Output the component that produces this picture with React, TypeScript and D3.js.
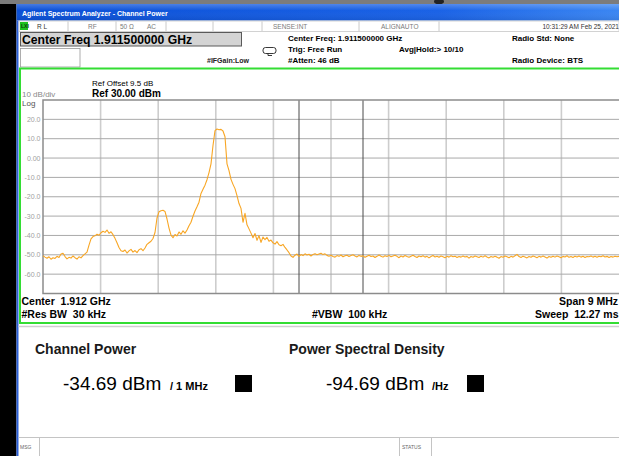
import React from 'react';
import * as d3 from 'd3';

// ---- data ----
const centerFreqMHz = 1911.5;
const spanMHz = 9;
const channelBwMHz = 1;
const refLevelDbm = 30;
const dbPerDiv = 10;
const numDivs = 10;
const yTickLabels = ["20.0", "10.0", "0.00", "-10.0", "-20.0", "-30.0", "-40.0", "-50.0", "-60.0"];
const traceDb = [
  -50.5, -51.2, -51.8, -51.0, -52.3, -51.5, -51.9, -50.8, -51.4, -49.6, -49.2, -50.9, -52.1, -51.3, -51.7, -50.6, -51.5, -52.2, -51.0, -51.6, -50.4,
  -49.5, -48.6,
  -45.0, -41.8, -40.6,
  -40.2, -39.4, -39.9, -38.6,
  -37.8, -38.4, -37.2, -38.9, -38.1,
  -39.6, -41.5, -43.8,
  -46.2, -47.9,
  -48.3, -47.5, -49.1, -48.0, -47.2, -48.6, -47.8, -48.9, -47.4, -46.8, -47.9, -46.5,
  -44.6, -43.8, -43.0, -41.6,
  -38.5,
  -31.0,
  -27.8, -27.2, -27.0, -27.6,
  -31.5, -36.2,
  -39.8, -41.2,
  -39.5, -40.3, -38.2, -39.4, -37.6, -38.8, -37.2,
  -35.0, -33.2, -30.1,
  -27.4, -25.2, -22.8,
  -18.3, -16.1, -14.0,
  -11.2, -7.5,
  -3.0, 6.5,
  14.2, 15.0, 14.6, 14.8,
  14.0,
  11.0, -3.0,
  -6.5, -11.0, -13.6,
  -15.8, -19.4, -23.5,
  -26.0, -33.2, -28.6, -34.5,
  -36.6, -38.8, -41.2,
  -39.0, -42.5, -40.1, -43.6, -40.8, -42.2, -41.0,
  -43.0, -42.4, -43.8, -44.5, -43.2, -44.8, -45.3, -44.6,
  -46.2, -47.5, -48.9, -50.6, -51.3,
  -50.2, -49.6, -50.8, -49.9, -50.4, -49.5, -50.1, -49.7, -50.6, -49.8,
  -49.4, -50.0, -49.6, -49.2, -49.9, -49.5, -50.3, -50.7, -50.2, -50.9,
  -51.2, -50.4, -50.8, -50.1, -51.0, -50.5, -50.2, -50.9, -50.4, -50.0,
  -50.6, -51.1, -50.3, -50.8, -50.5, -51.3, -50.7, -50.2, -50.9, -50.6,
  -51.4, -50.8, -50.1, -50.7, -51.2, -50.5, -50.9, -50.3, -51.0, -50.6,
  -50.2, -50.8, -51.5, -50.6, -51.1, -50.4, -50.9, -51.3, -50.7, -50.2,
  -50.9, -51.4, -50.6, -51.0, -50.5, -51.2, -50.8, -51.6, -50.9, -50.4,
  -51.1, -50.7, -51.3, -50.6, -51.0, -51.5, -50.8, -51.2, -50.5, -51.0,
  -50.7, -51.4, -50.9, -51.2, -50.6, -51.1, -50.8, -51.7, -50.9, -51.3,
  -50.6, -51.0, -51.4, -50.7, -51.2, -50.5, -51.1, -51.6, -50.9, -51.3,
  -50.8, -51.2, -51.8, -50.9, -51.3, -50.6, -51.0, -51.5, -50.8, -51.2,
  -50.5, -49.8, -50.9, -51.4, -50.7, -51.1, -51.6, -50.9, -51.3, -50.6,
  -51.0, -51.5, -50.8, -51.2, -50.6, -51.1, -51.7, -50.9, -51.3, -50.7,
  -51.2, -50.6, -51.0, -51.5, -50.8, -51.1, -50.5, -51.3, -50.9, -51.4,
  -50.7, -51.1, -50.6, -51.2, -50.8, -51.4, -50.9, -51.0, -50.6, -51.2,
  -50.8, -51.3, -50.7, -51.0, -50.5, -51.1, -50.8, -51.4, -50.9, -51.2,
  -50.7, -51.0, -50.8,
];
const channelPowerText = "-34.69 dBm";
const channelPowerUnit = "/ 1 MHz";
const psdText = "-94.69 dBm";
const psdUnit = "/Hz";

const FONT = "'Liberation Sans', Arial, sans-serif";

export default function App() {
  const W = 619, H = 456;
  const plot = { l: 43, r: 619, t: 100, b: 293.5 };
  const fStart = centerFreqMHz - spanMHz / 2;
  const fStop = centerFreqMHz + spanMHz / 2;
  const x = d3.scaleLinear().domain([fStart, fStop]).range([plot.l, plot.r]);
  const y = d3.scaleLinear().domain([refLevelDbm - dbPerDiv * numDivs, refLevelDbm]).range([plot.b, plot.t]);
  const fStep = spanMHz / (traceDb.length - 1);
  const line = d3.line<number>()
    .x((_, i) => x(fStart + i * fStep))
    .y((d) => y(d));
  const vDivs = d3.range(1, numDivs).map((k) => fStart + (k * spanMHz) / numDivs);
  const hDivs = d3.range(1, numDivs).map((k) => refLevelDbm - k * dbPerDiv);
  const chL = x(centerFreqMHz - channelBwMHz / 2);
  const chR = x(centerFreqMHz + channelBwMHz / 2);

  const info = { fontFamily: FONT, fontSize: 8, fontWeight: 700, fill: '#000' } as const;
  const small = { fontFamily: FONT, fontSize: 6.5, fill: '#7a7a7a' } as const;

  return (
    <svg width={W} height={H} viewBox={`0 0 ${W} ${H}`}
      style={{ position: 'fixed', left: 0, top: 0, background: '#fff' }}>
      <defs>
        <linearGradient id="tb" x1="0" x2="1" y1="0" y2="0">
          <stop offset="0" stopColor="#0a4fd6" />
          <stop offset="0.7" stopColor="#1a62e6" />
          <stop offset="1" stopColor="#3b86f2" />
        </linearGradient>
        <linearGradient id="tbv" x1="0" x2="0" y1="0" y2="1">
          <stop offset="0" stopColor="#ffffff" stopOpacity="0.25" />
          <stop offset="0.4" stopColor="#ffffff" stopOpacity="0" />
          <stop offset="1" stopColor="#000000" stopOpacity="0.08" />
        </linearGradient>
      </defs>
      <rect x={0} y={0} width={W} height={H} fill="#fff" />
      {/* left black band and top grey strip */}
      <rect x={0} y={0} width={16.5} height={H} fill="#000" />
      <rect x={0} y={0} width={W} height={4} fill="#7c7c7c" />
      <ellipse cx={439} cy={1.5} rx={5} ry={3} fill="#222" />
      {/* title bar */}
      <rect x={16.5} y={4} width={W - 16.5} height={16.5} fill="url(#tb)" />
      <rect x={16.5} y={4} width={W - 16.5} height={16.5} fill="url(#tbv)" />
      <text x={22} y={15.5} fontFamily={FONT} fontSize={7} fontWeight={700} fill="#fff">Agilent Spectrum Analyzer - Channel Power</text>
      {/* window left border */}
      <rect x={16.5} y={20.5} width={2} height={H - 20.5} fill="#2a5fd8" />

      {/* status row */}
      <rect x={19} y={21} width={W - 19} height={10.5} fill="#fff" stroke="#c8c8c8" strokeWidth={0.8} />
      <rect x={20} y={22} width={8} height={8} fill="#1ec21e" />
      <text x={21} y={28.3} fontFamily={FONT} fontSize={5} fontWeight={700} fill="#0a3a0a">LXI</text>
      {[68, 116, 166, 213, 262, 359, 439].map((sx) => (
        <line key={sx} x1={sx} x2={sx} y1={21.5} y2={31} stroke="#bdbdbd" strokeWidth={0.8} />
      ))}
      <text x={37} y={29} {...small} fill="#333">R L</text>
      <text x={88} y={29} {...small}>RF</text>
      <text x={120} y={29} {...small}>50 Ω</text>
      <text x={147} y={29} {...small}>AC</text>
      <text x={273} y={29} {...small}>SENSE:INT</text>
      <text x={381} y={29} {...small}>ALIGNAUTO</text>
      <text x={619} y={29} {...small} fill="#333" textAnchor="end">10:31:29 AM Feb 25, 2021</text>

      {/* center freq box */}
      <rect x={20.5} y={32.5} width={221} height={13.5} fill="#d4d4d4" stroke="#5a5a5a" strokeWidth={1} />
      <text x={22} y={44} fontFamily={FONT} fontSize={12.2} fontWeight={700} fill="#000">Center Freq 1.911500000 GHz</text>
      <rect x={20.5} y={48.5} width={59.5} height={18.5} fill="#fff" stroke="#9a9a9a" strokeWidth={0.8} />
      <text x={207} y={63} fontFamily={FONT} fontSize={7} fontWeight={700} fill="#222">#IFGain:Low</text>
      {/* small remote icon */}
      <rect x={263} y={47.5} width={13} height={6} rx={2.5} fill="#fff" stroke="#222" strokeWidth={0.9} />
      <path d="M268,53.5 L268,55.5 L272,55.5" fill="none" stroke="#222" strokeWidth={0.9} />

      <text x={288} y={41} {...info}>Center Freq: 1.911500000 GHz</text>
      <text x={288} y={52} {...info}>Trig: Free Run</text>
      <text x={288} y={63} {...info}>#Atten: 46 dB</text>
      <text x={399} y={52} {...info}>Avg|Hold:&gt; 10/10</text>
      <text x={512} y={41} {...info}>Radio Std: None</text>
      <text x={512} y={63} {...info}>Radio Device: BTS</text>

      {/* plot panel green frame */}
      <rect x={20} y={68.5} width={W} height={254.5} fill="#fff" stroke="#33dd33" strokeWidth={2} />
      <line x1={18.5} x2={W} y1={326.5} y2={326.5} stroke="#cfcfcf" strokeWidth={1.5} />

      <text x={92} y={86} fontFamily={FONT} fontSize={8} fill="#000">Ref Offset 9.5 dB</text>
      <text x={92} y={96.5} fontFamily={FONT} fontSize={10} fontWeight={700} fill="#000">Ref 30.00 dBm</text>
      <text x={22} y={97} fontFamily={FONT} fontSize={8} fill="#8a8a8a">10 dB/div</text>
      <text x={22} y={106} fontFamily={FONT} fontSize={8} fill="#555">Log</text>

      {/* grid */}
      <g>
        {vDivs.map((f) => (
          <line key={'v' + f} x1={x(f)} x2={x(f)} y1={plot.t} y2={plot.b} stroke="#cdcdcd" strokeWidth={1.6} />
        ))}
        {hDivs.map((d) => (
          <line key={'h' + d} x1={plot.l} x2={plot.r} y1={y(d)} y2={y(d)} stroke="#a9a9a9" strokeWidth={1} />
        ))}
        <line x1={chL} x2={chL} y1={plot.t} y2={plot.b} stroke="#4a4a4a" strokeWidth={1} />
        <line x1={chR} x2={chR} y1={plot.t} y2={plot.b} stroke="#4a4a4a" strokeWidth={1} />
        <rect x={plot.l} y={plot.t} width={plot.r - plot.l + 2} height={plot.b - plot.t} fill="none" stroke="#8c8c8c" strokeWidth={1.5} />
      </g>
      {yTickLabels.map((lab, k) => (
        <text key={lab} x={40.5} y={y(refLevelDbm - (k + 1) * dbPerDiv) + 2.5} fontFamily={FONT} fontSize={7}
          fill="#a0a0a0" textAnchor="end">{lab}</text>
      ))}
      <path d={line(traceDb) || ''} fill="none" stroke="#f8a624" strokeWidth={1.1} strokeLinejoin="round" />

      {/* bottom annotations */}
      <text x={21.5} y={304.5} fontFamily={FONT} fontSize={10.5} fontWeight={700} fill="#000" style={{ whiteSpace: 'pre' }}>Center  1.912 GHz</text>
      <text x={21.5} y={318} fontFamily={FONT} fontSize={10.5} fontWeight={700} fill="#000" style={{ whiteSpace: 'pre' }}>#Res BW  30 kHz</text>
      <text x={312} y={318} fontFamily={FONT} fontSize={10.5} fontWeight={700} fill="#000" style={{ whiteSpace: 'pre' }}>#VBW  100 kHz</text>
      <text x={618} y={304.5} fontFamily={FONT} fontSize={10.5} fontWeight={700} fill="#000" textAnchor="end" style={{ whiteSpace: 'pre' }}>Span 9 MHz</text>
      <text x={618.5} y={318} fontFamily={FONT} fontSize={10.5} fontWeight={700} fill="#000" textAnchor="end" style={{ whiteSpace: 'pre' }}>Sweep  12.27 ms</text>

      {/* results panel */}
      <text x={35} y={354} fontFamily={FONT} fontSize={14} fontWeight={700} fill="#1a1a1a">Channel Power</text>
      <text x={289} y={354} fontFamily={FONT} fontSize={14} fontWeight={700} fill="#1a1a1a">Power Spectral Density</text>
      <text x={63} y={390} fontFamily={FONT} fontSize={19} fill="#000">{channelPowerText}</text>
      <text x={170} y={389.5} fontFamily={FONT} fontSize={11} fontWeight={700} fill="#000" style={{ whiteSpace: 'pre' }}>{channelPowerUnit}</text>
      <rect x={235} y={375} width={17} height={17} fill="#000" />
      <text x={326} y={390} fontFamily={FONT} fontSize={19} fill="#000">{psdText}</text>
      <text x={432} y={389.5} fontFamily={FONT} fontSize={11} fontWeight={700} fill="#000">{psdUnit}</text>
      <rect x={467} y={375} width={17} height={17} fill="#000" />

      {/* message / status bar */}
      <line x1={18.5} x2={W} y1={437.5} y2={437.5} stroke="#c4c4c4" strokeWidth={1} />
      <line x1={39.5} x2={39.5} y1={438} y2={H} stroke="#c4c4c4" strokeWidth={1} />
      <line x1={399.5} x2={399.5} y1={438} y2={H} stroke="#c4c4c4" strokeWidth={1} />
      <line x1={431.5} x2={431.5} y1={438} y2={H} stroke="#c4c4c4" strokeWidth={1} />
      <text x={20} y={449} fontFamily={FONT} fontSize={5} fill="#666">MSG</text>
      <text x={402} y={449} fontFamily={FONT} fontSize={5} fill="#666">STATUS</text>
    </svg>
  );
}
